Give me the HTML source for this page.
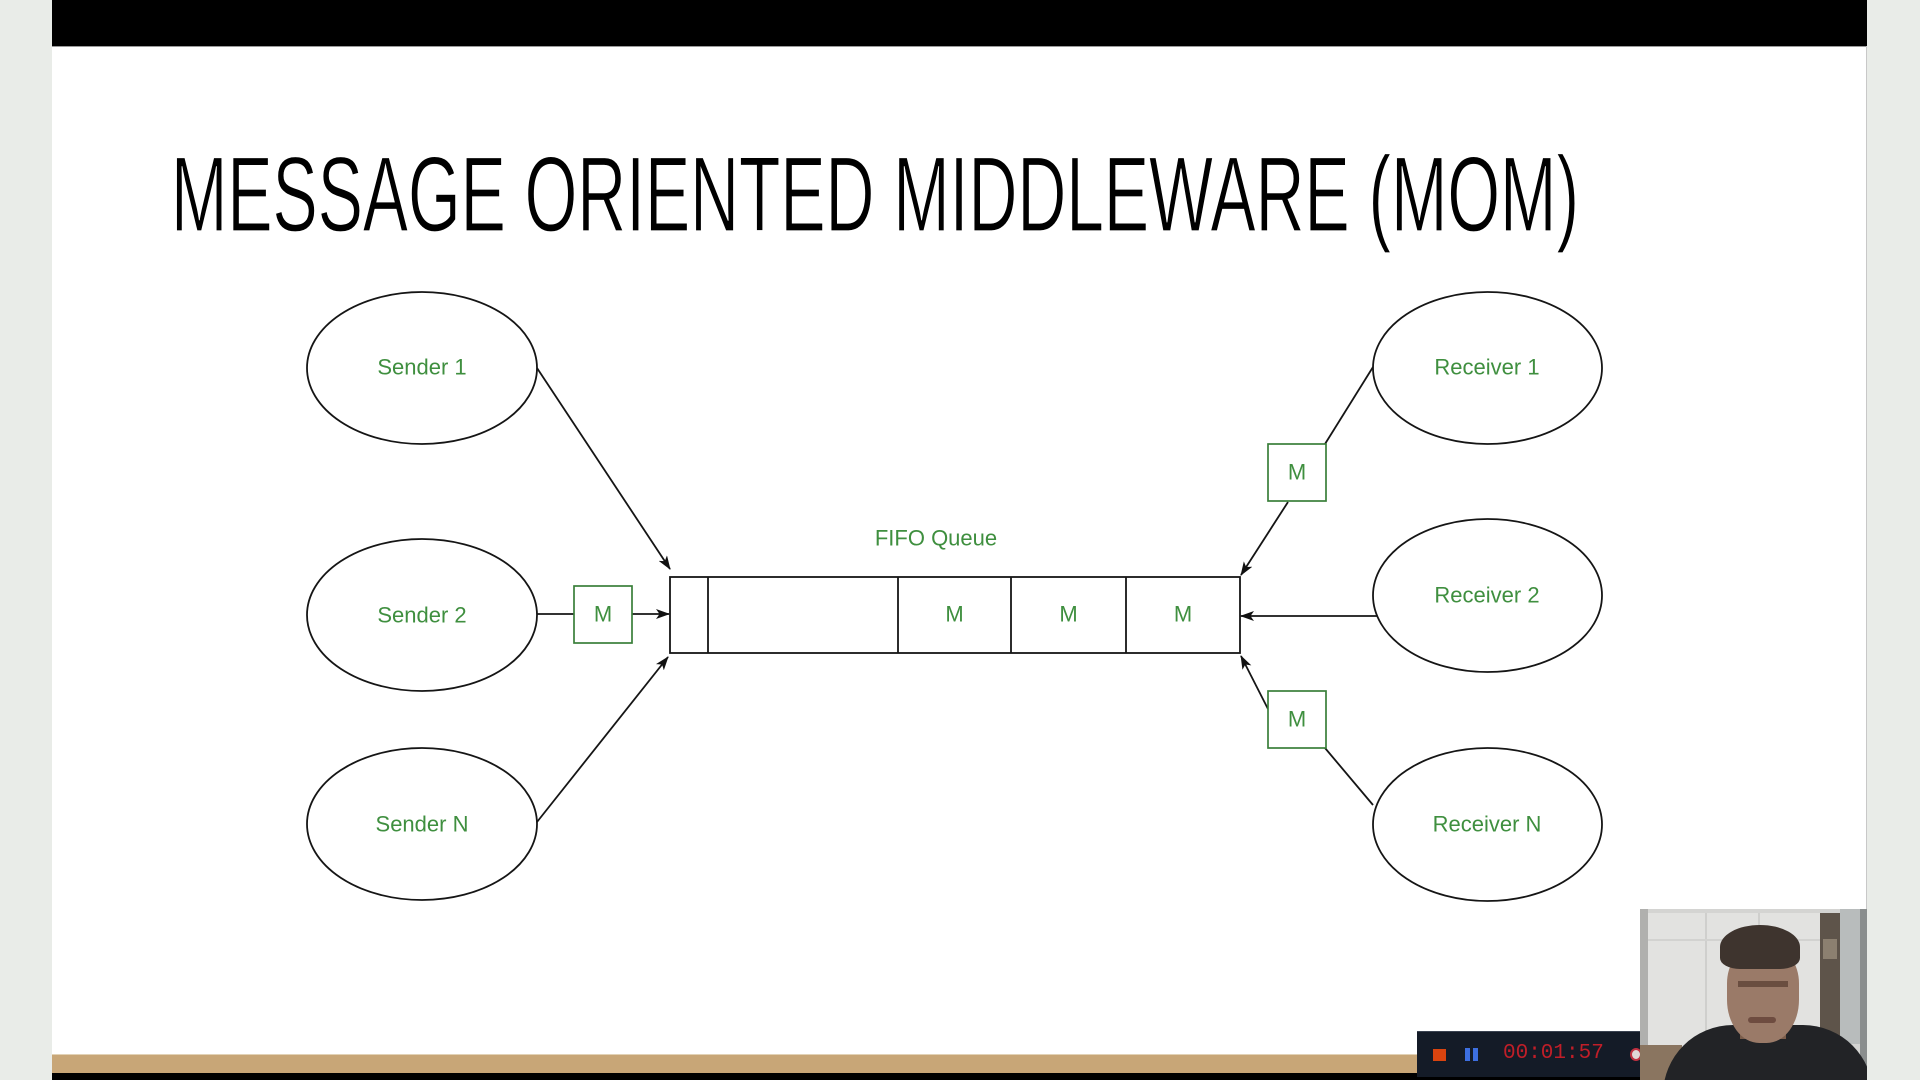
<!DOCTYPE html>
<html>
<head>
<meta charset="utf-8">
<style>
  html,body{margin:0;padding:0;}
  body{width:1920px;height:1080px;overflow:hidden;background:#e9ece8;position:relative;font-family:"Liberation Sans",sans-serif;}
  .abs{position:absolute;}
</style>
</head>
<body>
<!-- slide -->
<div class="abs" style="left:52px;top:0;width:1815px;height:1080px;background:#fff;"></div>
<div class="abs" style="left:52px;top:0;width:1815px;height:46px;background:#000;"></div>
<div class="abs" style="left:52px;top:46px;width:1815px;height:1px;background:#9a9a9a;"></div>
<div class="abs" style="left:1866px;top:46px;width:1px;height:1010px;background:#c8c8c8;"></div>
<div class="abs" style="left:52px;top:1054px;width:1815px;height:19px;background:#c8a677;border-top:1px solid #e2d2b6;box-sizing:border-box;"></div>
<div class="abs" style="left:52px;top:1073px;width:1815px;height:7px;background:#000;"></div>

<svg class="abs" style="left:0;top:0;" width="1920" height="1080" viewBox="0 0 1920 1080" xmlns="http://www.w3.org/2000/svg">
  <defs>
    <marker id="ar" viewBox="0 0 14 10" refX="13" refY="5" markerWidth="14" markerHeight="10" markerUnits="userSpaceOnUse" orient="auto">
      <path d="M0,0 L14,5 L0,10 L3.5,5 Z" fill="#111"/>
    </marker>
  </defs>
  <text x="171" y="231" font-family="Liberation Sans, sans-serif" font-size="107" textLength="1408" lengthAdjust="spacingAndGlyphs" fill="#000" stroke="#fff" stroke-width="1.2">MESSAGE ORIENTED MIDDLEWARE (MOM)</text>

  <g fill="none" stroke="#151515" stroke-width="1.8">
    <!-- senders -->
    <ellipse cx="422" cy="368" rx="115" ry="76"/>
    <ellipse cx="422" cy="615" rx="115" ry="76"/>
    <ellipse cx="422" cy="824" rx="115" ry="76"/>
    <!-- receivers -->
    <ellipse cx="1487.5" cy="368" rx="114.5" ry="76"/>
    <ellipse cx="1487.5" cy="595.5" rx="114.5" ry="76.5"/>
    <ellipse cx="1487.5" cy="824.5" rx="114.5" ry="76.5"/>
    <!-- queue -->
    <rect x="670" y="577" width="570" height="76"/>
    <line x1="708" y1="577" x2="708" y2="653"/>
    <line x1="898" y1="577" x2="898" y2="653"/>
    <line x1="1011" y1="577" x2="1011" y2="653"/>
    <line x1="1126" y1="577" x2="1126" y2="653"/>
    <!-- connectors -->
    <line x1="537" y1="368" x2="670" y2="569" marker-end="url(#ar)"/>
    <line x1="537" y1="614" x2="574" y2="614"/>
    <line x1="632" y1="614" x2="669" y2="614" marker-end="url(#ar)"/>
    <line x1="537" y1="822" x2="668" y2="657" marker-end="url(#ar)"/>
    <line x1="1373" y1="367" x2="1325" y2="444"/>
    <line x1="1288" y1="502" x2="1241" y2="575" marker-end="url(#ar)"/>
    <line x1="1377" y1="616" x2="1241" y2="616" marker-end="url(#ar)"/>
    <line x1="1373" y1="805" x2="1325" y2="748"/>
    <line x1="1268" y1="709" x2="1241" y2="656" marker-end="url(#ar)"/>
  </g>
  <g fill="#fff" stroke="#3a7f3a" stroke-width="1.7">
    <rect x="574" y="586" width="58" height="57"/>
    <rect x="1268" y="444" width="58" height="57"/>
    <rect x="1268" y="691" width="58" height="57"/>
  </g>
  <g font-family="Liberation Sans, sans-serif" font-size="22" fill="#3f8f3f" text-anchor="middle" dominant-baseline="central">
    <text x="422" y="367">Sender 1</text>
    <text x="422" y="615">Sender 2</text>
    <text x="422" y="824">Sender N</text>
    <text x="1487" y="367">Receiver 1</text>
    <text x="1487" y="595">Receiver 2</text>
    <text x="1487" y="824">Receiver N</text>
    <text x="936" y="538">FIFO Queue</text>
    <text x="603" y="614">M</text>
    <text x="1297" y="472">M</text>
    <text x="1297" y="719">M</text>
    <text x="954.5" y="614">M</text>
    <text x="1068.5" y="614">M</text>
    <text x="1183" y="614">M</text>
  </g>
</svg>

<!-- recorder bar -->
<div class="abs" style="left:1417px;top:1031px;width:223px;height:46px;background:#141b27;border-top:1px solid #3a4250;box-sizing:border-box;"></div>
<div class="abs" style="left:1433px;top:1049px;width:13px;height:12px;background:#d9440f;"></div>
<div class="abs" style="left:1465px;top:1048px;width:5px;height:13px;background:#3d6fe0;"></div>
<div class="abs" style="left:1473px;top:1048px;width:5px;height:13px;background:#3d6fe0;"></div>
<div class="abs" style="left:1503px;top:1043px;font-family:'Liberation Mono',monospace;font-size:21px;line-height:22px;color:#c01e28;letter-spacing:0px;">00:01:57</div>
<div class="abs" style="left:1630px;top:1048px;width:12px;height:13px;border-radius:50%;background:#e0d6d6;border:2px solid #c03040;box-sizing:border-box;"></div>

<!-- webcam -->
<div class="abs" style="left:1640px;top:909px;width:227px;height:171px;background:#d4d4d2;overflow:hidden;">
  <div class="abs" style="left:0;top:0;width:8px;height:171px;background:#b0b0ae;"></div>
  <div class="abs" style="left:8px;top:4px;width:172px;height:140px;background:#e2e2e0;"></div>
  <div class="abs" style="left:65px;top:4px;width:2px;height:140px;background:#cfcfcd;"></div>
  <div class="abs" style="left:118px;top:4px;width:2px;height:140px;background:#cfcfcd;"></div>
  <div class="abs" style="left:8px;top:30px;width:172px;height:2px;background:#d2d2d0;"></div>
  <div class="abs" style="left:180px;top:4px;width:20px;height:125px;background:#5e544a;"></div>
  <div class="abs" style="left:183px;top:30px;width:14px;height:20px;background:#8c8070;"></div>
  <div class="abs" style="left:200px;top:0;width:20px;height:135px;background:#b8bcbc;"></div>
  <div class="abs" style="left:220px;top:0;width:7px;height:171px;background:#8a8e8e;"></div>
  <div class="abs" style="left:0;top:136px;width:42px;height:35px;background:#8a7560;"></div>
  <!-- person -->
  <div class="abs" style="left:23px;top:116px;width:210px;height:70px;background:#222326;border-radius:70px 70px 0 0;"></div>
  <div class="abs" style="left:100px;top:100px;width:46px;height:30px;background:#7a5c4a;"></div>
  <div class="abs" style="left:87px;top:38px;width:72px;height:96px;background:#9a7a68;border-radius:38% 38% 45% 45%;"></div>
  <div class="abs" style="left:80px;top:16px;width:80px;height:44px;background:#3e342e;border-radius:50% 50% 25% 25%;"></div>
  <div class="abs" style="left:98px;top:72px;width:50px;height:6px;background:#6a4e40;"></div>
  <div class="abs" style="left:108px;top:108px;width:28px;height:6px;background:#6e4c40;border-radius:3px;"></div>
</div>
</body>
</html>
